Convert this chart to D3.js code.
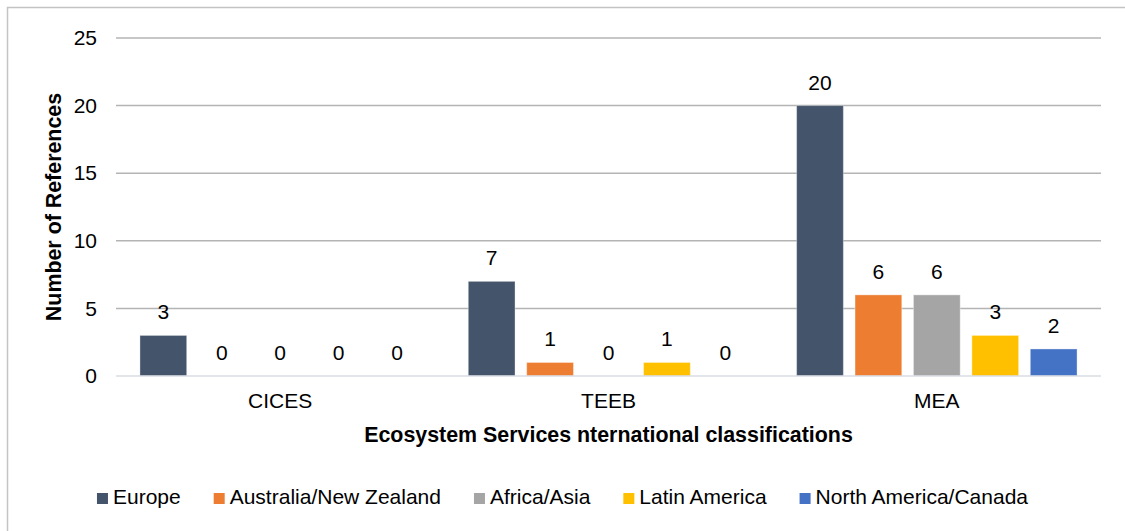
<!DOCTYPE html>
<html>
<head>
<meta charset="utf-8">
<script src="https://cdn.jsdelivr.net/npm/d3@7"></script>
<style>
  html, body { margin: 0; padding: 0; background: #fff; }
  svg { display: block; font-family: "Liberation Sans", Arial, sans-serif; }
</style>
</head>
<body>
<svg id="chart" width="1125" height="531"></svg>
<script>
// Classifications on the x axis
const categories = ["CICES", "TEEB", "MEA"];
// Regions (series)
const seriesNames = ["Europe", "Australia/New Zealand", "Africa/Asia", "Latin America", "North America/Canada"];
const seriesColors = ["#44546A", "#ED7D31", "#A5A5A5", "#FFC000", "#4472C4"];
// Number of references per region, one array per classification
const valuesCICES = [3, 0, 0, 0, 0];
const valuesTEEB = [7, 1, 0, 1, 0];
const valuesMEA = [20, 6, 6, 3, 2];
const yTicks = [0, 5, 10, 15, 20, 25];

const values = [valuesCICES, valuesTEEB, valuesMEA];
const rows = categories.map((c, i) => ({
  category: c,
  bars: seriesNames.map((s, j) => ({ series: s, value: values[i][j], color: seriesColors[j] }))
}));

const svg = d3.select("#chart");
const margin = { left: 116, top: 38 };
const plotW = 1101 - margin.left;
const plotH = 376 - margin.top;
const fontSize = 21;

// outer frame (only left and top edges fall inside the image)
svg.append("rect")
  .attr("x", 7.5).attr("y", 7.5)
  .attr("width", 1140).attr("height", 560)
  .attr("fill", "none").attr("stroke", "#C4C4C4").attr("stroke-width", 1.5);

const g = svg.append("g").attr("transform", `translate(${margin.left},${margin.top})`);

const x0 = d3.scaleBand().domain(categories).range([0, plotW]).padding(0);
const x1 = d3.scaleBand().domain(seriesNames).range([0, x0.bandwidth()])
  .paddingInner(0.2).paddingOuter(0.41);
const y = d3.scaleLinear().domain([0, 25]).range([plotH, 0]);

// gridlines
g.append("g").selectAll("line").data(yTicks.filter(t => t > 0)).join("line")
  .attr("x1", 0).attr("x2", plotW)
  .attr("y1", d => y(d)).attr("y2", d => y(d))
  .attr("stroke", "#B4B4B4").attr("stroke-width", 1.5);

// y tick labels
const yAxis = d3.axisLeft(y).tickValues(yTicks).tickSize(0).tickPadding(19);
const ya = g.append("g").call(yAxis);
ya.select(".domain").remove();
ya.selectAll("text")
  .attr("font-size", fontSize).attr("fill", "#000")
  .attr("font-family", "'Liberation Sans', Arial, sans-serif");

// bars
const groups = g.append("g").selectAll("g").data(rows).join("g")
  .attr("transform", d => `translate(${x0(d.category)},0)`);

groups.selectAll("rect").data(d => d.bars.filter(b => b.value > 0)).join("rect")
  .attr("x", d => x1(d.series))
  .attr("y", d => y(d.value))
  .attr("width", x1.bandwidth())
  .attr("height", d => y(0) - y(d.value))
  .attr("fill", d => d.color)
  .attr("stroke", "rgba(255,255,255,0.35)")
  .attr("stroke-width", 1);

// value labels
groups.selectAll("text").data(d => d.bars).join("text")
  .attr("x", d => x1(d.series) + x1.bandwidth() / 2)
  .attr("y", d => y(d.value) - 16)
  .attr("text-anchor", "middle")
  .attr("font-size", fontSize).attr("fill", "#000")
  .text(d => d.value);

// zero baseline
g.append("line")
  .attr("x1", 0).attr("x2", plotW)
  .attr("y1", y(0)).attr("y2", y(0))
  .attr("stroke", "#D9DDE3").attr("stroke-width", 1.5);

// x category labels
const xAxis = d3.axisBottom(x0).tickSize(0).tickPadding(17);
const xa = g.append("g").attr("transform", `translate(0,${plotH})`).call(xAxis);
xa.select(".domain").remove();
xa.selectAll("text")
  .attr("font-size", fontSize).attr("fill", "#000")
  .attr("font-family", "'Liberation Sans', Arial, sans-serif");

// axis titles
svg.append("text")
  .attr("x", margin.left + plotW / 2).attr("y", 442)
  .attr("text-anchor", "middle")
  .attr("font-size", 21.4).attr("font-weight", "bold")
  .text("Ecosystem Services nternational classifications");

svg.append("text")
  .attr("transform", `translate(61,${margin.top + plotH / 2}) rotate(-90)`)
  .attr("text-anchor", "middle")
  .attr("font-size", 21.4).attr("font-weight", "bold")
  .text("Number of References");

// legend
const legend = svg.append("g");
const items = legend.selectAll("g").data(seriesNames).join("g");
items.append("rect")
  .attr("width", 11).attr("height", 11).attr("y", -11)
  .attr("fill", (d, i) => seriesColors[i]);
items.append("text")
  .attr("x", 16).attr("y", 0)
  .attr("font-size", fontSize).attr("fill", "#000")
  .text(d => d);
const gap = 33;
let cx = 0;
items.each(function () {
  const node = d3.select(this);
  node.attr("transform", `translate(${cx},0)`);
  cx += 16 + node.select("text").node().getComputedTextLength() + gap;
});
const legendW = cx - gap;
legend.attr("transform", `translate(${(8 + 1117) / 2 - legendW / 2},504)`);
</script>
</body>
</html>
